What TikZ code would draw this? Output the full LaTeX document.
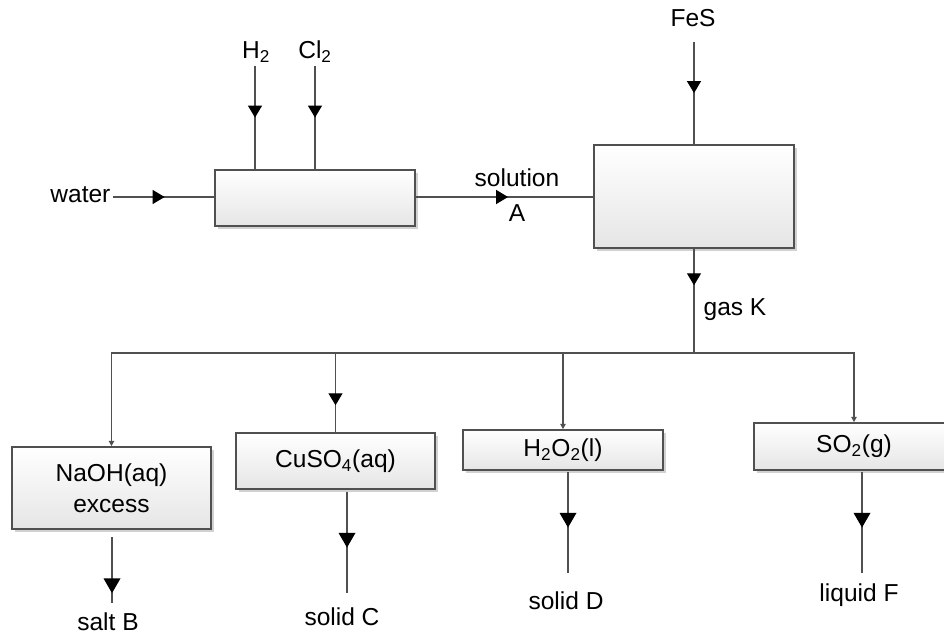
\documentclass[tikz,border=0pt]{standalone}
\usepackage{fontspec}
\setmainfont{Liberation Sans}
\usetikzlibrary{arrows.meta,decorations.markings,shadows}
\definecolor{linegray}{HTML}{505050}
\begin{document}
\begin{tikzpicture}[x=0.75pt,y=-0.75pt,
  every node/.style={font=\fontsize{18.4}{22}\selectfont, inner sep=1pt},
  flow/.style={draw=linegray, line width=1pt},
  procbox/.style={draw=linegray, line width=1.2pt, top color=white, bottom color=black!10,
    drop shadow={shadow xshift=2.5pt, shadow yshift=-2.5pt, fill=black!18, opacity=1},
    align=center, inner sep=0pt},
  inarrow/.style={postaction={decorate}, decoration={markings,
    mark=at position #1 with {\arrow{Triangle[width=10.5pt,length=9pt,color=black]}}}},
  outarrow/.style={postaction={decorate}, decoration={markings,
    mark=at position #1 with {\arrow{Triangle[width=12.5pt,length=11pt,color=black]}}}},
  endtip/.style={-{Triangle[width=4pt,length=4pt]}}
]
\useasboundingbox (0,0) rectangle (944,635);

% boxes
\node[procbox, minimum width=150pt, minimum height=42pt] (box1) at (315,198) {};
\node[procbox, minimum width=150pt, minimum height=77.25pt] (box2) at (694,196.5) {};
\node[procbox, minimum width=149.25pt, minimum height=61.5pt] (naoh) at (111.5,488) {NaOH(aq)\\[1pt]excess};
\node[procbox, minimum width=149.25pt, minimum height=42pt] (cuso) at (335.5,461) {CuSO\textsubscript{4}(aq)};
\node[procbox, minimum width=150pt, minimum height=30pt] (hoo) at (563,450) {H\textsubscript{2}O\textsubscript{2}(l)};
\node[procbox, minimum width=150pt, minimum height=35.25pt] (sotwo) at (854,446.5) {SO\textsubscript{2}(g)};

% labels
\node[anchor=base east] (water) at (112,202) {water};
\node (hlab) at (256,52) {H\textsubscript{2}};
\node (cllab) at (315,52) {Cl\textsubscript{2}};
\node[align=center] (solA) at (517,195) {solution\\[4pt]A};
\node (fes) at (693,18) {FeS};
\node (gasK) at (735,310) {gas K};
\node (saltB) at (108,622) {salt B};
\node (solidC) at (342,617) {solid C};
\node (solidD) at (566,601) {solid D};
\node (liqF) at (859,595) {liquid F};

% inputs
\coordinate (wstart) at (113,197);
\draw[flow, inarrow=0.51] (wstart) -- (box1.west |- wstart);
\coordinate (hstart) at (255,66);
\coordinate (clstart) at (315,66);
\draw[flow, inarrow=0.5] (hstart) -- (hstart |- box1.north);
\draw[flow, inarrow=0.5] (clstart) -- (clstart |- box1.north);
\draw[flow, inarrow=0.52] (box1.east |- wstart) -- (box2.west |- wstart);
\coordinate (fstart) at (694,42);
\draw[flow, inarrow=0.5] (fstart) -- (box2.north);

% gas K and bus
\coordinate (bus) at (694,353);
\draw[flow, inarrow=0.35] (box2.south) -- (bus);
\draw[flow, endtip] (bus) -| (naoh.north);
\draw[flow, endtip] (bus) -| (sotwo.north);
\draw[flow, inarrow=0.66] (cuso.north |- bus) -- (cuso.north);
\draw[flow, endtip] (hoo.north |- bus) -- (hoo.north);

% outputs
\coordinate (oB1) at (112,537); \coordinate (oB2) at (112,603);
\draw[flow, outarrow=0.85] (oB1) -- (oB2);
\coordinate (oC1) at (347,492); \coordinate (oC2) at (347,593);
\draw[flow, outarrow=0.55] (oC1) -- (oC2);
\coordinate (oD1) at (568,472); \coordinate (oD2) at (568,573);
\draw[flow, outarrow=0.55] (oD1) -- (oD2);
\coordinate (oF1) at (862,472); \coordinate (oF2) at (862,573);
\draw[flow, outarrow=0.55] (oF1) -- (oF2);
\end{tikzpicture}
\end{document}
